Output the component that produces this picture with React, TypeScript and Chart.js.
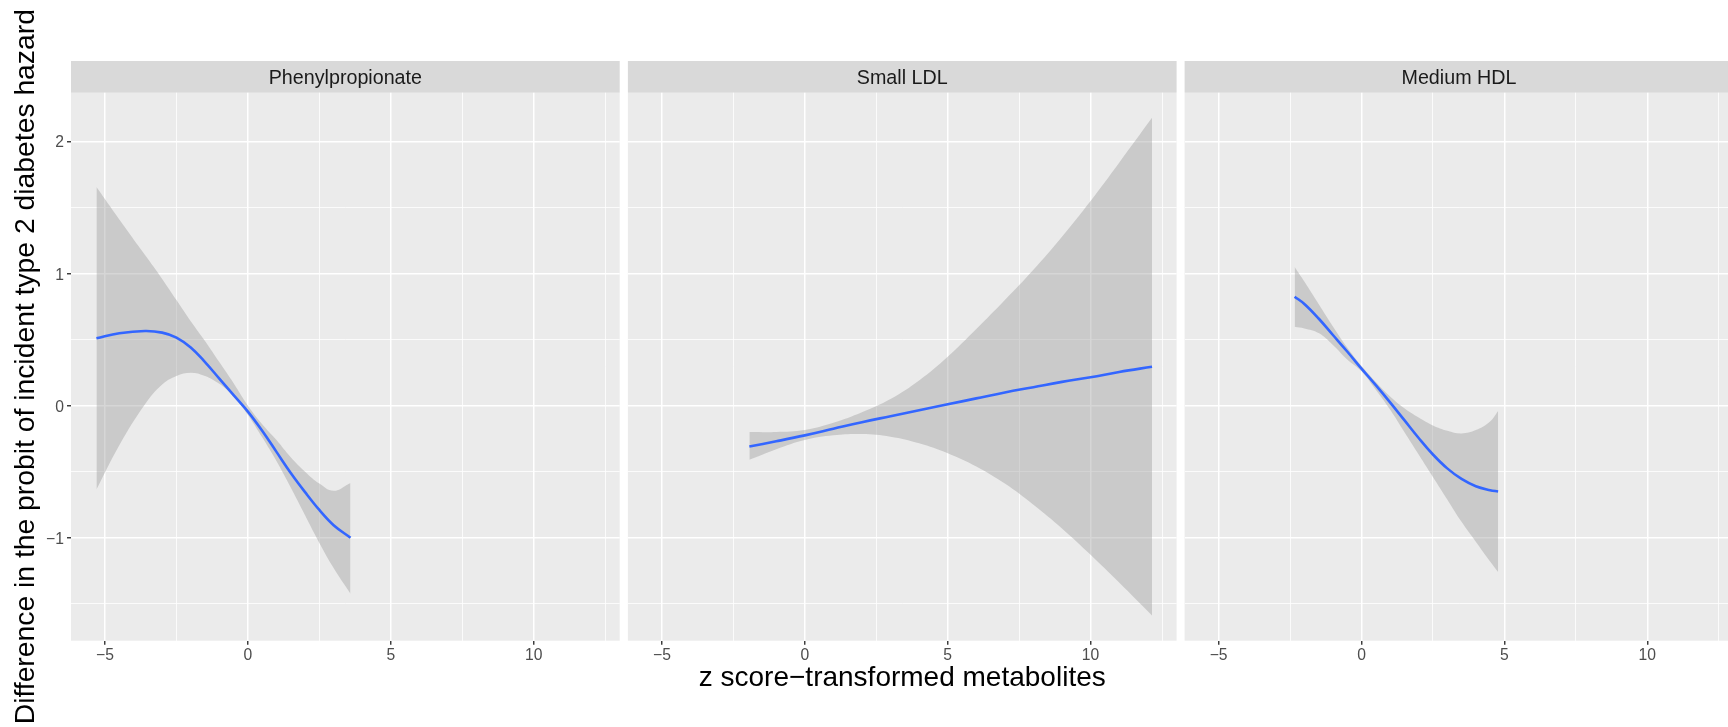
import React, { useEffect, useRef } from 'react';
import { Chart, registerables } from 'chart.js';

Chart.register(...registerables);

// ---------- data ----------
const panelTitles = ['Phenylpropionate', 'Small LDL', 'Medium HDL'];

const phenylX = [-5.3, -4.5, -3.6, -3, -2.5, -2, -1.5, -1, -0.5, 0, 0.5, 1, 1.5, 2, 2.5, 3, 3.59];
const phenylFit = [0.51, 0.548, 0.565, 0.553, 0.515, 0.44, 0.33, 0.205, 0.08, -0.045, -0.19, -0.35, -0.51, -0.655, -0.79, -0.905, -1.0];
const phenylUpper = [1.655, 1.41, 1.14, 0.96, 0.8, 0.64, 0.49, 0.33, 0.17, 0.0, -0.14, -0.26, -0.39, -0.5, -0.59, -0.645, -0.585];
const phenylLower = [-0.635, -0.3, 0.01, 0.16, 0.225, 0.25, 0.225, 0.165, 0.07, -0.07, -0.24, -0.42, -0.62, -0.83, -1.04, -1.23, -1.425];

const ldlX = [-1.94, -1, 0, 1, 2, 3, 4, 5, 6, 7, 8, 9, 10, 11, 12.15];
const ldlFit = [-0.31, -0.27, -0.225, -0.175, -0.125, -0.08, -0.035, 0.01, 0.055, 0.1, 0.14, 0.18, 0.215, 0.255, 0.295];
const ldlUpper = [-0.2, -0.2, -0.185, -0.13, -0.05, 0.05, 0.19, 0.37, 0.58, 0.8, 1.03, 1.28, 1.55, 1.84, 2.18];
const ldlLower = [-0.41, -0.33, -0.26, -0.225, -0.215, -0.235, -0.285, -0.36, -0.46, -0.59, -0.75, -0.93, -1.13, -1.34, -1.59];

const hdlX = [-2.34, -2, -1.5, -1, -0.5, 0, 0.5, 1, 1.5, 2, 2.5, 3, 3.5, 4, 4.5, 4.78];
const hdlFit = [0.825, 0.77, 0.66, 0.535, 0.41, 0.28, 0.155, 0.025, -0.11, -0.245, -0.37, -0.475, -0.555, -0.61, -0.64, -0.65];
const hdlUpper = [1.05, 0.94, 0.77, 0.6, 0.44, 0.3, 0.18, 0.07, -0.02, -0.09, -0.15, -0.19, -0.21, -0.185, -0.12, -0.04];
const hdlLower = [0.597, 0.585, 0.55, 0.46, 0.35, 0.26, 0.12, -0.03, -0.2, -0.37, -0.54, -0.71, -0.88, -1.03, -1.18, -1.26];

const xTickValues = [-5, 0, 5, 10];
const xTickLabels = ['\u22125', '0', '5', '10'];
const xMinorValues = [-2.5, 2.5, 7.5, 12.5];
const yTickValues = [-1, 0, 1, 2];
const yTickLabels = ['\u22121', '0', '1', '2'];
const yMinorValues = [-1.5, -0.5, 0.5, 1.5];
const xLimits = [-6.19, 13.01];
const yLimits = [-1.78, 2.37];

const xTitle = 'z score\u2212transformed metabolites';
const yTitle = 'Difference in the probit of incident type 2 diabetes hazard';

// ---------- layout / style ----------
const W = 1728;
const H = 727;
const FONT = "'Liberation Sans', Arial, Helvetica, sans-serif";
const STRIP_TOP = 61;
const PANEL_TOP = 92.7;
const PANEL_BOTTOM = 640.7;

const canvasSpecs = [
  { x: 0, w: 621, padL: 0, padR: 1.3 },
  { x: 627, w: 551, padL: 0.9, padR: 1.4 },
  { x: 1184, w: 551, padL: 0.6, padR: 1.7 },
];

const seriesSets = [
  { xs: phenylX, fit: phenylFit, up: phenylUpper, lo: phenylLower },
  { xs: ldlX, fit: ldlFit, up: ldlUpper, lo: ldlLower },
  { xs: hdlX, fit: hdlFit, up: hdlUpper, lo: hdlLower },
];

const pts = (xs: number[], ys: number[]) => xs.map((x, i) => ({ x, y: ys[i] }));

const near = (arr: number[], v: number) => arr.some((a) => Math.abs(a - v) < 1e-9);
const idx = (arr: number[], v: number) => arr.findIndex((a) => Math.abs(a - v) < 1e-9);

function makeConfig(i: number): any {
  const s = seriesSets[i];
  const spec = canvasSpecs[i];
  const title = panelTitles[i];
  const decor = {
    id: 'panelDecor',
    beforeDraw(chart: any) {
      const { ctx, chartArea: a } = chart;
      ctx.save();
      ctx.fillStyle = '#EBEBEB';
      ctx.fillRect(a.left, a.top, a.right - a.left, a.bottom - a.top);
      ctx.fillStyle = '#D9D9D9';
      ctx.fillRect(a.left, STRIP_TOP, a.right - a.left, a.top - STRIP_TOP);
      ctx.fillStyle = '#1A1A1A';
      ctx.font = `19.7px ${FONT}`;
      ctx.textAlign = 'center';
      ctx.textBaseline = 'alphabetic';
      ctx.fillText(title, (a.left + a.right) / 2, 84.3);
      ctx.restore();
    },
  };

  const band = 'rgba(153,153,153,0.4)';
  const smooth = 0.4;
  return {
    type: 'line',
    data: {
      datasets: [
        {
          label: 'fit',
          data: pts(s.xs, s.fit),
          borderColor: '#3366FF',
          borderWidth: 2.6,
          pointRadius: 0,
          fill: false,
          tension: smooth,
        },
        {
          label: 'lower',
          data: pts(s.xs, s.lo),
          borderColor: 'rgba(0,0,0,0)',
          borderWidth: 0,
          pointRadius: 0,
          fill: false,
          tension: smooth,
        },
        {
          label: 'upper',
          data: pts(s.xs, s.up),
          borderColor: 'rgba(0,0,0,0)',
          backgroundColor: band,
          borderWidth: 0,
          pointRadius: 0,
          fill: '-1',
          tension: smooth,
        },
      ],
    },
    options: {
      animation: false,
      responsive: false,
      devicePixelRatio: 1,
      events: [],
      layout: { padding: { top: PANEL_TOP, bottom: 0, left: spec.padL, right: spec.padR } },
      plugins: { legend: { display: false }, tooltip: { enabled: false }, title: { display: false } },
      scales: {
        x: {
          type: 'linear',
          min: xLimits[0],
          max: xLimits[1],
          afterBuildTicks: (sc: any) => {
            sc.ticks = [...xTickValues, ...xMinorValues].sort((a, b) => a - b).map((v) => ({ value: v }));
          },
          afterFit: (sc: any) => {
            sc.height = H - PANEL_BOTTOM;
          },
          border: { display: false },
          grid: {
            color: '#FFFFFF',
            lineWidth: (c: any) => (c.tick && near(xTickValues, c.tick.value) ? 1.5 : 0.8),
            drawTicks: true,
            tickLength: 4,
            tickColor: (c: any) => (c.tick && near(xTickValues, c.tick.value) ? '#333333' : 'rgba(0,0,0,0)'),
            tickWidth: 1.4,
          },
          ticks: {
            autoSkip: false,
            maxRotation: 0,
            minRotation: 0,
            padding: 1.1,
            color: '#4D4D4D',
            font: { family: FONT, size: 15.7 },
            callback: (v: number) => {
              const k = idx(xTickValues, v);
              return k >= 0 ? xTickLabels[k] : '';
            },
          },
          title:
            i === 1
              ? { display: true, text: xTitle, color: '#000000', font: { family: FONT, size: 28 }, padding: { top: 0, bottom: 31.9 } }
              : { display: false },
        },
        y: {
          type: 'linear',
          min: yLimits[0],
          max: yLimits[1],
          afterBuildTicks: (sc: any) => {
            sc.ticks = [...yTickValues, ...yMinorValues].sort((a, b) => a - b).map((v) => ({ value: v }));
          },
          afterFit: (sc: any) => {
            sc.width = i === 0 ? 71 : 0;
          },
          border: { display: false },
          grid: {
            color: '#FFFFFF',
            lineWidth: (c: any) => (c.tick && near(yTickValues, c.tick.value) ? 1.5 : 0.8),
            drawTicks: i === 0,
            tickLength: 4,
            tickColor: (c: any) => (c.tick && near(yTickValues, c.tick.value) ? '#333333' : 'rgba(0,0,0,0)'),
            tickWidth: 1.4,
          },
          ticks: {
            display: i === 0,
            autoSkip: false,
            padding: 3,
            labelOffset: 1.6,
            color: '#4D4D4D',
            font: { family: FONT, size: 15.7 },
            callback: (v: number) => {
              const k = idx(yTickValues, v);
              return k >= 0 ? yTickLabels[k] : '';
            },
          },
          title:
            i === 0
              ? { display: true, text: yTitle, color: '#000000', font: { family: FONT, size: 28.3 }, padding: { top: 9.2, bottom: 0 } }
              : { display: false },
        },
      },
    },
    plugins: [decor],
  };
}

function PanelChart({ index }: { index: number }) {
  const ref = useRef<HTMLCanvasElement | null>(null);
  const spec = canvasSpecs[index];
  useEffect(() => {
    if (!ref.current) return;
    const chart = new Chart(ref.current, makeConfig(index));
    return () => chart.destroy();
  }, [index]);
  return (
    <canvas
      ref={ref}
      width={spec.w}
      height={H}
      style={{ position: 'absolute', left: spec.x, top: 0, width: spec.w, height: H, display: 'block' }}
    />
  );
}

export default function App() {
  return (
    <div
      style={{
        position: 'fixed',
        left: 0,
        top: 0,
        width: W,
        height: H,
        overflow: 'hidden',
        background: '#FFFFFF',
      }}
    >
      {panelTitles.map((_, i) => (
        <PanelChart key={i} index={i} />
      ))}
    </div>
  );
}
